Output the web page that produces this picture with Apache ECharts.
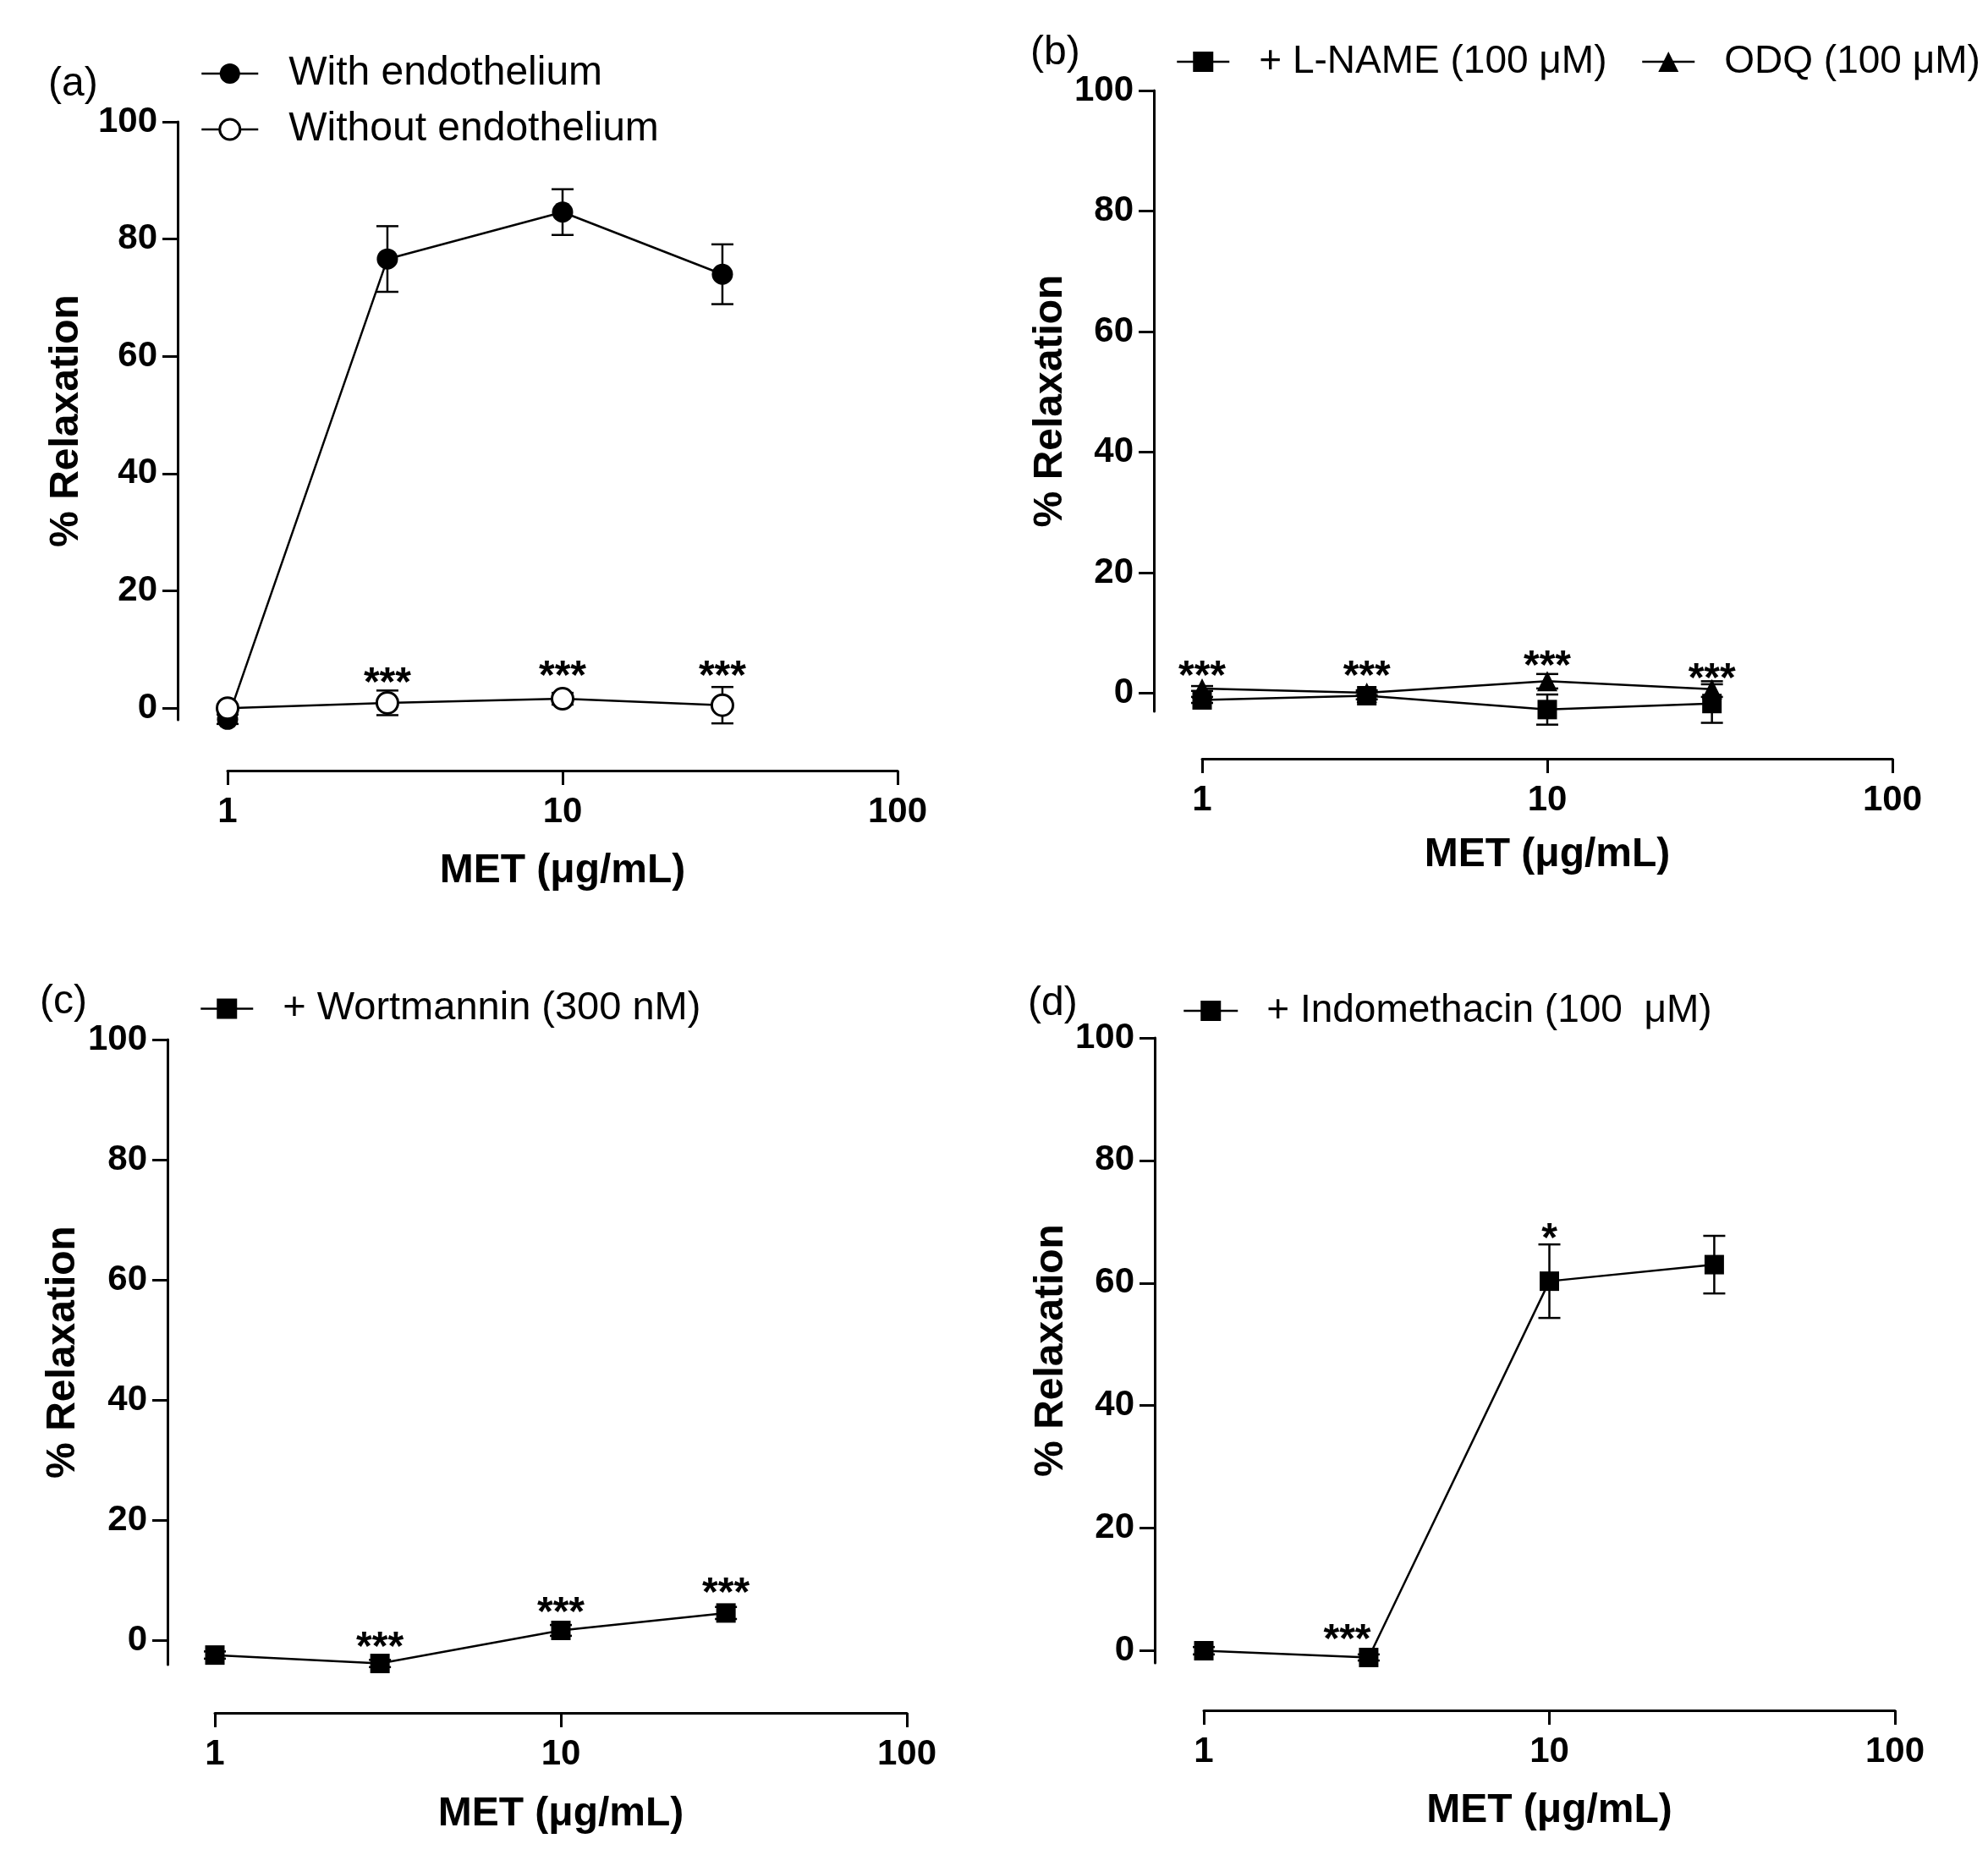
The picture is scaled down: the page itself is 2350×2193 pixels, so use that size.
<!DOCTYPE html>
<html><head><meta charset="utf-8">
<script src="https://cdn.jsdelivr.net/npm/echarts@6/dist/echarts.min.js"></script>
<style>html,body{margin:0;padding:0;background:#fff}#c{width:2350px;height:2193px}</style>
</head><body><div id="c"></div>
<script>
// ---------- data ----------
const doses = [1, 3, 10, 30];
const yTickValues = [0, 20, 40, 60, 80, 100];

const aWithMean = [-1.9, 76.6, 84.6, 74.0];
const aWithSem = [0.8, 5.6, 3.9, 5.1];
const aWithoutMean = [0, 0.9, 1.6, 0.5];
const aWithoutSem = [0.5, 2.1, 1.0, 3.1];
const aStars = [[3, 5.8, '***'], [10, 6.9, '***'], [30, 6.9, '***']];

const bLnameMean = [-1.1, -0.4, -2.7, -1.7];
const bLnameSem = [0.5, 0.6, 2.5, 3.2];
const bOdqMean = [0.8, 0.1, 2.0, 0.7];
const bOdqSem = [0.4, 0.4, 1.2, 1.3];
const bStars = [[1, 4.3, '***'], [3, 4.3, '***'], [10, 6.0, '***'], [30, 3.8, '***']];

const cWortMean = [-2.4, -3.8, 1.7, 4.6];
const cWortSem = [0.6, 0.6, 0.9, 1.0];
const cStars = [[3, 0.3, '***'], [10, 6.1, '***'], [30, 9.3, '***']];

const dIndoMean = [0, -1.1, 60.3, 63.0];
const dIndoSem = [0.6, 0.5, 6.0, 4.7];
const dStars = [[2.6, 3.2, '***'], [10, 68.6, '*']];

const panelLabels = ['(a)', '(b)', '(c)', '(d)'];
const xName = 'MET (\u03bcg/mL)';
const yName = '% Relaxation';

// ---------- helpers ----------
const FF = "'Liberation Sans', Arial, Helvetica, sans-serif";
const pts = (m) => doses.map((d, i) => [d, m[i]]);
const errs = (m, s) => doses.map((d, i) => [d, m[i], s[i]]);

function errRender(params, api) {
  const x = api.value(0), y = api.value(1), e = api.value(2);
  const t = api.coord([x, y + e]);
  const b = api.coord([x, y - e]);
  const hw = 13;
  const st = { stroke: '#000', lineWidth: 2.5 };
  return { type: 'group', children: [
    { type: 'line', shape: { x1: t[0], y1: t[1], x2: b[0], y2: b[1] }, style: st },
    { type: 'line', shape: { x1: t[0] - hw, y1: t[1], x2: t[0] + hw, y2: t[1] }, style: st },
    { type: 'line', shape: { x1: b[0] - hw, y1: b[1], x2: b[0] + hw, y2: b[1] }, style: st }
  ]};
}
const starText = {};
function starRender(params, api) {
  const p = api.coord([api.value(0), api.value(1)]);
  const fs = 48;
  return { type: 'text', x: p[0], y: p[1] + fs * 0.24, style: {
    text: starText[params.seriesIndex][params.dataIndex], font: 'bold ' + fs + 'px ' + FF,
    fill: '#000', textAlign: 'center', textVerticalAlign: 'middle' } };
}

const grids = [
  { left: 269, right: 1289, top: 144, bottom: 1342 },
  { left: 1421, right: 113, top: 107, bottom: 1352 },
  { left: 254, right: 1278, top: 1229, bottom: 225 },
  { left: 1423, right: 110, top: 1227, bottom: 227 }
];
const yMins = [-2, -3, -4, -2];
const yOffsets = [59, 57, 56, 58];
const xOffsets = [60, 56, 57, 56];
const yNameGaps = [107, 93, 99, 95];
const xNameGaps = [95, 90, 96, 95];

const axisLineStyle = { color: '#000', width: 3 };
const xAxes = grids.map((g, i) => ({
  gridIndex: i, type: 'log', logBase: 10, min: 1, max: 100,
  offset: xOffsets[i], position: 'bottom',
  axisLine: { show: true, onZero: false, lineStyle: axisLineStyle },
  axisTick: { show: true, inside: false, length: 17, lineStyle: axisLineStyle },
  minorTick: { show: false }, splitLine: { show: false },
  axisLabel: { fontSize: 42, fontWeight: 'bold', color: '#000', fontFamily: FF, margin: 28 },
  name: xName, nameLocation: 'middle', nameGap: xNameGaps[i],
  nameTextStyle: { fontSize: 48, fontWeight: 'bold', color: '#000', fontFamily: FF }
}));
const yAxes = grids.map((g, i) => ({
  gridIndex: i, type: 'value', min: yMins[i], max: 100,
  offset: yOffsets[i], position: 'left',
  axisLine: { show: true, onZero: false, lineStyle: axisLineStyle },
  axisTick: { show: true, length: 18, lineStyle: axisLineStyle, customValues: yTickValues },
  splitLine: { show: false },
  axisLabel: { fontSize: 42, fontWeight: 'bold', color: '#000', fontFamily: FF, margin: 24, customValues: yTickValues },
  name: yName, nameLocation: 'middle', nameGap: yNameGaps[i], nameRotate: 90,
  nameTextStyle: { fontSize: 48, fontWeight: 'bold', color: '#000', fontFamily: FF }
}));

const series = [];
function addLine(name, gi, mean, sem, symbol, size, fill) {
  series.push({ type: 'custom', xAxisIndex: gi, yAxisIndex: gi, z: 1, clip: false,
    renderItem: errRender, data: errs(mean, sem), silent: true });
  series.push({ type: 'line', name: name, xAxisIndex: gi, yAxisIndex: gi, z: 3, clip: false,
    data: pts(mean), symbol: symbol, symbolSize: size, showSymbol: true,
    lineStyle: { color: '#000', width: 2.5 },
    itemStyle: { color: fill, borderColor: '#000', borderWidth: fill === '#fff' ? 3 : 0 },
    emphasis: { disabled: true } });
}
function addStars(gi, stars) {
  starText[series.length] = stars.map(s => s[2]);
  series.push({ type: 'custom', xAxisIndex: gi, yAxisIndex: gi, z: 4, clip: false,
    renderItem: starRender, data: stars.map(s => [s[0], s[1]]), silent: true });
}

addLine('With endothelium', 0, aWithMean, aWithSem, 'circle', 25, '#000');
addLine('Without endothelium', 0, aWithoutMean, aWithoutSem, 'circle', 25, '#fff');
addStars(0, aStars);
addLine('ODQ (100 \u03bcM)', 1, bOdqMean, bOdqSem, 'triangle', 24, '#000');
addLine('+ L-NAME (100 \u03bcM)', 1, bLnameMean, bLnameSem, 'rect', 23, '#000');
addStars(1, bStars);
addLine('+ Wortmannin (300 nM)', 2, cWortMean, cWortSem, 'rect', 23, '#000');
addStars(2, cStars);
addLine('+ Indomethacin (100  \u03bcM)', 3, dIndoMean, dIndoSem, 'rect', 23, '#000');
addStars(3, dStars);

function leg(name, left, top, w, fill, fs, pad) {
  return { data: [name], left: left, top: top, padding: 0, orient: 'horizontal',
    itemWidth: w, itemHeight: 30, selectedMode: false,
    itemStyle: { color: fill, borderColor: '#000', borderWidth: fill === '#fff' ? 3 : 0 },
    lineStyle: { color: '#000', width: 2.5 },
    textStyle: { fontSize: fs, color: '#000', fontFamily: FF, padding: [0, 0, 0, pad] } };
}
const legends = [
  leg('With endothelium', 237, 63, 67, '#000', 48, 31),
  leg('Without endothelium', 237, 129, 67, '#fff', 48, 31),
  leg('+ L-NAME (100 \u03bcM)', 1390, 50, 62, '#000', 46, 30),
  leg('ODQ (100 \u03bcM)', 1940, 50, 62, '#000', 46, 30),
  leg('+ Wortmannin (300 nM)', 236, 1169, 62, '#000', 47, 30),
  leg('+ Indomethacin (100  \u03bcM)', 1398, 1172, 64, '#000', 46, 29)
];
const labelPos = [[57, 76], [1218, 39], [47, 1161], [1215, 1163]];
const titles = panelLabels.map((t, i) => ({ text: t, left: labelPos[i][0], top: labelPos[i][1], padding: 0,
  textStyle: { fontSize: 48, fontWeight: 'normal', color: '#000', fontFamily: FF } }));

const chart = echarts.init(document.getElementById('c'), null, { renderer: 'canvas' });
chart.setOption({
  animation: false, backgroundColor: '#fff',
  title: titles, legend: legends,
  grid: grids, xAxis: xAxes, yAxis: yAxes, series: series
});
</script></body></html>
